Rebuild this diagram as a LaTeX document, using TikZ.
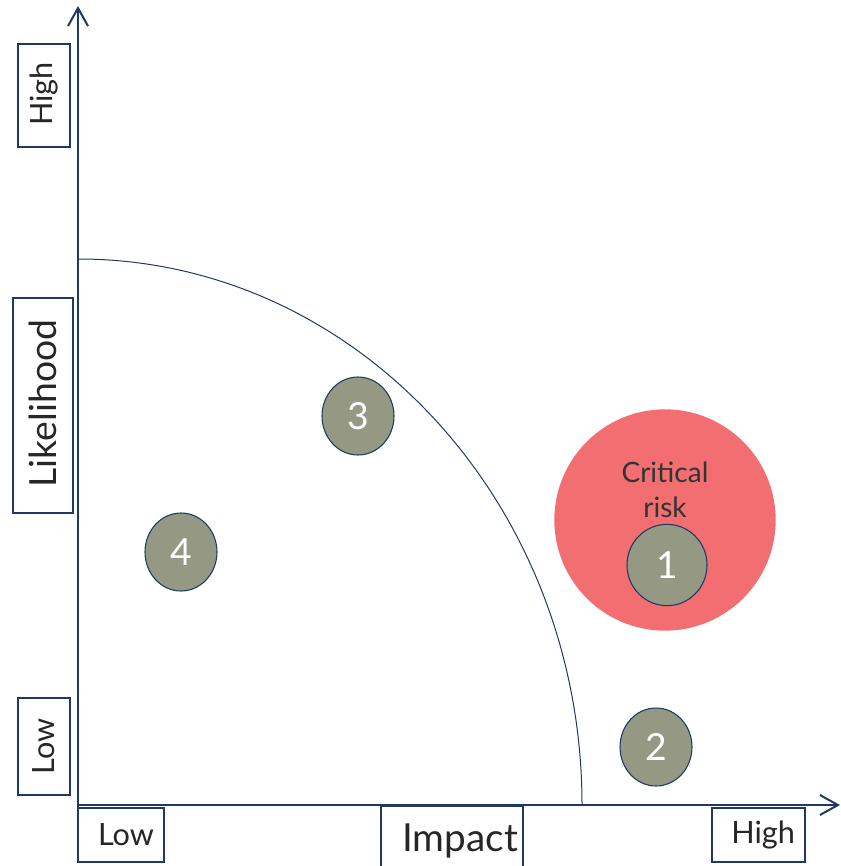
\documentclass[tikz,border=0pt]{standalone}
\usepackage{fontspec}
\setmainfont{Lato}
\usetikzlibrary{arrows.meta,shapes.geometric}
\definecolor{axisblue}{HTML}{1F3864}
\definecolor{riskgray}{HTML}{959882}
\definecolor{critred}{RGB}{242,110,112}
\tikzset{
  lbox/.style={draw=axisblue, line width=1.1pt, inner sep=0pt, text=black!85, font=\fontsize{23}{26}\selectfont},
  risk/.style={ellipse, draw=axisblue, line width=0.8pt, fill=riskgray, minimum width=54pt, minimum height=58.5pt, inner sep=0pt, text=white, font=\fontsize{28}{30}\selectfont},
  axis/.style={draw=axisblue, line width=1.5pt, -{Straight Barb[length=13.5pt,width=15pt]}}
}
\begin{document}
\begin{tikzpicture}[x=0.75pt,y=-0.75pt]
\useasboundingbox (0,0) rectangle (841,866);
% axis labels
\node[lbox, rotate=90, minimum width=77pt, minimum height=39pt] (lhigh) at (44,95.5) {\hspace{2pt}High};
\node[lbox, rotate=90, minimum width=161pt, minimum height=45pt, font=\fontsize{28}{30}\selectfont] (likeli) at (43,405.5) {\hspace{3pt}Likelihood};
\node[lbox, rotate=90, minimum width=72.75pt, minimum height=39pt] (llow) at (44,746.5) {Low};
\node[lbox, minimum width=64.5pt, minimum height=40.5pt] (ilow) at (121,835) {\hspace{7.5pt}Low};
\node[lbox, minimum width=106.5pt, minimum height=52pt, font=\fontsize{29}{32}\selectfont] (impact) at (452,840.5) {\hspace{12pt}Impact};
\node[lbox, minimum width=69.75pt, minimum height=40.5pt] (ihigh) at (758.5,835) {\hspace{7pt}High};
% axes
\coordinate (origin) at (78,805);
\coordinate (ytip) at (78,6);
\coordinate (xtip) at (840,805);
\coordinate (arcend) at (582,805);
\draw[axis] ([yshift=-2pt]origin) -- (ytip);
\draw[axis] ([xshift=-1pt]origin) -- (xtip);
\draw[axisblue, line width=0.75pt] (arcend) arc[start angle=0, end angle=-90, x radius=504, y radius=546];
% risks
\node[circle, fill=critred, minimum size=166pt, inner sep=0pt] (crit) at (665,520) {};
\node[align=center, text=black!80, font=\fontsize{21}{26}\selectfont] (critlbl) at (665,490) {Critical\\risk};
\node[risk, minimum width=60pt, minimum height=61pt] (r1) at (667,565) {1};
\node[risk] (r2) at (656,747) {2};
\node[risk] (r3) at (358,416) {3};
\node[risk] (r4) at (181,552) {4};
\end{tikzpicture}
\end{document}
